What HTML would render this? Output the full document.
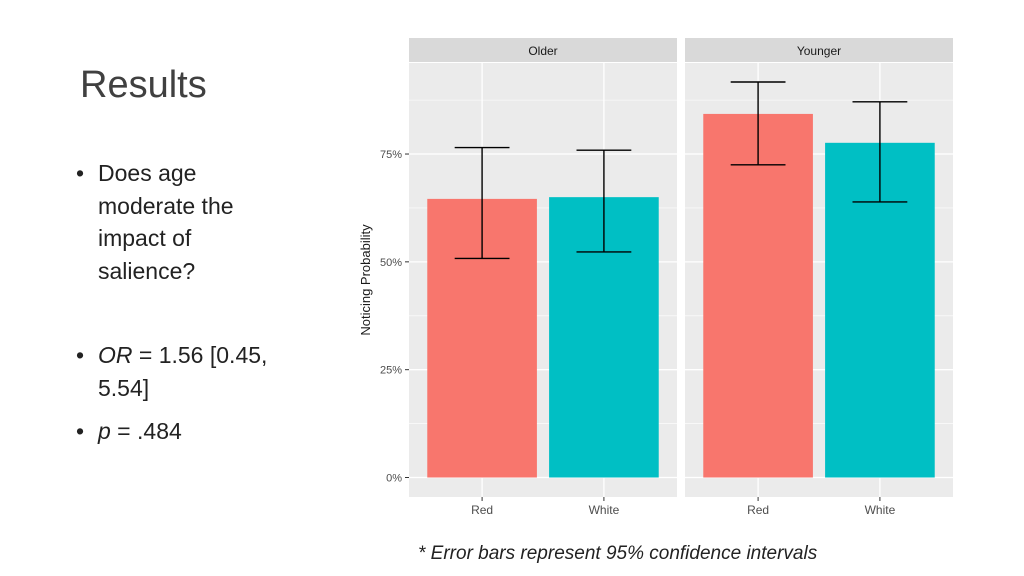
<!DOCTYPE html>
<html><head><meta charset="utf-8"><style>
body{margin:0;width:1024px;height:576px;background:#fff;overflow:hidden;position:relative;font-family:"Liberation Sans",sans-serif}
.t{position:absolute;color:#222}
</style></head><body>
<div class="t" style="left:80px;top:64px;font-size:38px;color:#404040">Results</div>
<div class="t" style="left:76px;top:157px;font-size:23px;line-height:32.5px">•&nbsp;<span style="position:absolute;left:22px;width:175px">Does age moderate the impact of salience?</span></div>
<div class="t" style="left:76px;top:339px;font-size:23px;line-height:32.5px">•&nbsp;<span style="position:absolute;left:22px;width:210px"><i>OR</i> = 1.56 [0.45, 5.54]</span></div>
<div class="t" style="left:76px;top:415px;font-size:23px;line-height:32.5px">•&nbsp;<span style="position:absolute;left:22px;width:200px"><i>p</i> = .484</span></div>
<div class="t" style="left:418px;top:543px;font-size:19px;font-style:italic">* Error bars represent 95% confidence intervals</div>
<svg id="chart" width="1024" height="576" style="position:absolute;left:0;top:0" font-family="Liberation Sans, sans-serif"></svg>
<script>
const panels=["Older","Younger"];
const categories=["Red","White"];
const means=[[64.6,65.0],[84.3,77.6]];
const lower=[[50.8,52.3],[72.5,63.9]];
const upper=[[76.5,75.9],[91.7,87.1]];
const yTicks=[0,25,50,75];
const yTickLabels=["0%","25%","50%","75%"];
const colors=["#F8766D","#00BFC4"];
const svg=document.getElementById('chart');
const NS="http://www.w3.org/2000/svg";
function mk(tag,a,p){const e=document.createElementNS(NS,tag);for(const k in a)e.setAttribute(k,a[k]);(p||svg).appendChild(e);return e;}
const panelX=[409,685],panelW=268,plotTop=63,plotBot=497;
const y=v=>477.5-v*4.313;
const x=(p,i)=>panelX[p]+panelW*(0.6+i)/2.2;
const unit=panelW/2.2;
panels.forEach((name,p)=>{
  const g=mk('g',{});
  
  
  const s=mk('rect',{x:panelX[p],y:38,width:panelW,height:24,fill:'#D9D9D9'},g);
  
  
  const st=mk('text',{x:panelX[p]+panelW/2,y:55,'text-anchor':'middle','font-size':12,fill:'#1a1a1a'},g);st.textContent=name;
  
  
  mk('rect',{x:panelX[p],y:plotTop,width:panelW,height:plotBot-plotTop,fill:'#EBEBEB'},g);
  for(let k=0;k<yTicks.length;k++){
    mk('line',{x1:panelX[p],x2:panelX[p]+panelW,y1:y(yTicks[k]+12.5),y2:y(yTicks[k]+12.5),stroke:'#fff','stroke-width':0.6},g);
  }
  yTicks.forEach(v=>mk('line',{x1:panelX[p],x2:panelX[p]+panelW,y1:y(v),y2:y(v),stroke:'#fff','stroke-width':1.3},g));
  categories.forEach((c,i)=>{
    mk('line',{x1:x(p,i),x2:x(p,i),y1:plotTop,y2:plotBot,stroke:'#fff','stroke-width':1.3},g);
  });
  categories.forEach((c,i)=>{
    const cx=x(p,i);
    const b=mk('rect',{x:cx-unit*0.45,y:y(means[p][i]),width:unit*0.9,height:y(0)-y(means[p][i]),fill:colors[i]},g);
    
    
    const e=mk('path',{d:`M${cx-unit*0.225},${y(upper[p][i])}H${cx+unit*0.225}M${cx},${y(upper[p][i])}V${y(lower[p][i])}M${cx-unit*0.225},${y(lower[p][i])}H${cx+unit*0.225}`,stroke:'#000','stroke-width':1.4,fill:'none'},g);
    
    
    mk('line',{x1:cx,x2:cx,y1:plotBot,y2:plotBot+4,stroke:'#333'},g);
    const t=mk('text',{x:cx,y:514,'text-anchor':'middle','font-size':12,fill:'#4d4d4d'},g);t.textContent=c;
    
    
  });
});
yTicks.forEach((v,k)=>{
  mk('line',{x1:405,x2:409,y1:y(v),y2:y(v),stroke:'#333'});
  const t=mk('text',{x:402,y:y(v)+4,'text-anchor':'end','font-size':11,fill:'#4d4d4d'});t.textContent=yTickLabels[k];
  
  
});
const yt=mk('text',{x:370,y:280,'text-anchor':'middle','font-size':13,fill:'#1a1a1a',transform:'rotate(-90 370 280)'});
yt.textContent='Noticing Probability';


</script>
</body></html>
